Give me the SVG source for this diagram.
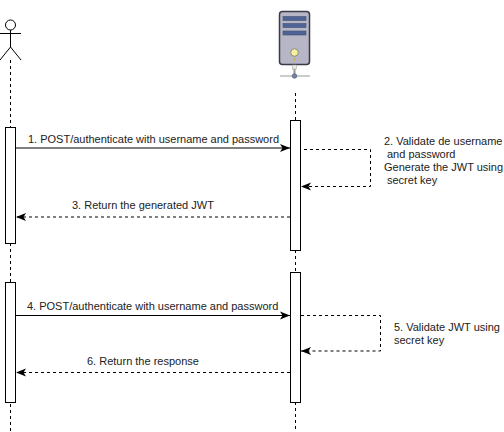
<svg xmlns="http://www.w3.org/2000/svg" width="504" height="432" viewBox="0 0 504 432">
<style>
text{font-family:"Liberation Sans",Arial,sans-serif;font-size:11px;fill:#222}
.b{fill:#fff;stroke:#000;stroke-width:1}
.l{fill:none;stroke:#000;stroke-width:1}
.d{stroke-dasharray:3 3}
</style>
<defs>
<marker id="a" markerUnits="userSpaceOnUse" markerWidth="12" markerHeight="10" refX="10" refY="5" orient="auto"><path d="M0 1L10 5L0 9L2.500 5Z" fill="#000"/></marker>
</defs>
<rect width="504" height="432" fill="#fff"/>
<g id="lifelines">
<path class="l d" d="M10.500 60V127M10.500 243V282M10.500 398V431"/>
<path class="l d" d="M295.500 93V120M295.500 250V272M295.500 402V431"/>
</g>
<g id="actor">
<circle class="b" cx="10.500" cy="25" r="5"/>
<path class="l" d="M10.500 30V47M0 33.500H21M0 60L10.500 47L21 60"/>
</g>
<g id="server">
<path d="M280 76H310" stroke="#bbb" stroke-width="1.500"/>
<path d="M294.500 64V76" stroke="#999" stroke-width="2"/>
<rect x="279.500" y="11.500" width="30" height="53" rx="3" fill="#b6b6c6" stroke="#3a3a48" stroke-width="1.500"/>
<rect x="283" y="16.500" width="23" height="4" fill="#4f6496" stroke="#44506e" stroke-width=".6"/>
<rect x="283" y="23.500" width="23" height="4" fill="#4f6496" stroke="#44506e" stroke-width=".6"/>
<rect x="283" y="31" width="23" height="4" fill="#4f6496" stroke="#44506e" stroke-width=".6"/>
<circle cx="294.500" cy="52.500" r="3.800" fill="#f6ee9a" stroke="#777" stroke-width=".8"/>
<circle cx="294.500" cy="59.500" r="1.300" fill="#c9b43c"/>
<rect x="292.500" y="65" width="4" height="4" fill="#eed" stroke="#999" stroke-width=".5"/>
<circle cx="294.500" cy="76" r="2.300" fill="#6c86a8" stroke="#556" stroke-width=".6"/>
</g>
<g id="activations">
<rect class="b" x="5.500" y="127.500" width="10" height="116"/>
<rect class="b" x="5.500" y="282.500" width="10" height="120"/>
<rect class="b" x="290.500" y="120.500" width="10" height="130"/>
<rect class="b" x="290.500" y="272.500" width="10" height="130"/>
</g>
<g id="connectors">
<path class="l" marker-end="url(#a)" d="M16 148H290"/>
<path class="l d" marker-end="url(#a)" d="M304 149.500H370.500V186.500H301"/>
<path class="l d" marker-end="url(#a)" d="M290 217H16"/>
<path class="l" marker-end="url(#a)" d="M16 315.500H290"/>
<path class="l d" marker-end="url(#a)" d="M301 315.500H380.500V351H301"/>
<path class="l d" marker-end="url(#a)" d="M290 372.500H16"/>
</g>
<g id="labels">
<text x="28" y="143" textLength="251">1. POST/authenticate with username and password</text>
<text x="384" y="145">2. Validate de username</text>
<text x="387" y="158">and password</text>
<text x="384" y="171">Generate the JWT using</text>
<text x="387" y="184">secret key</text>
<text x="72" y="209">3. Return the generated JWT</text>
<text x="27" y="310">4. POST/authenticate with username and password</text>
<text x="394" y="331">5. Validate JWT using</text>
<text x="394" y="344">secret key</text>
<text x="87" y="365">6. Return the response</text>
</g>
</svg>
